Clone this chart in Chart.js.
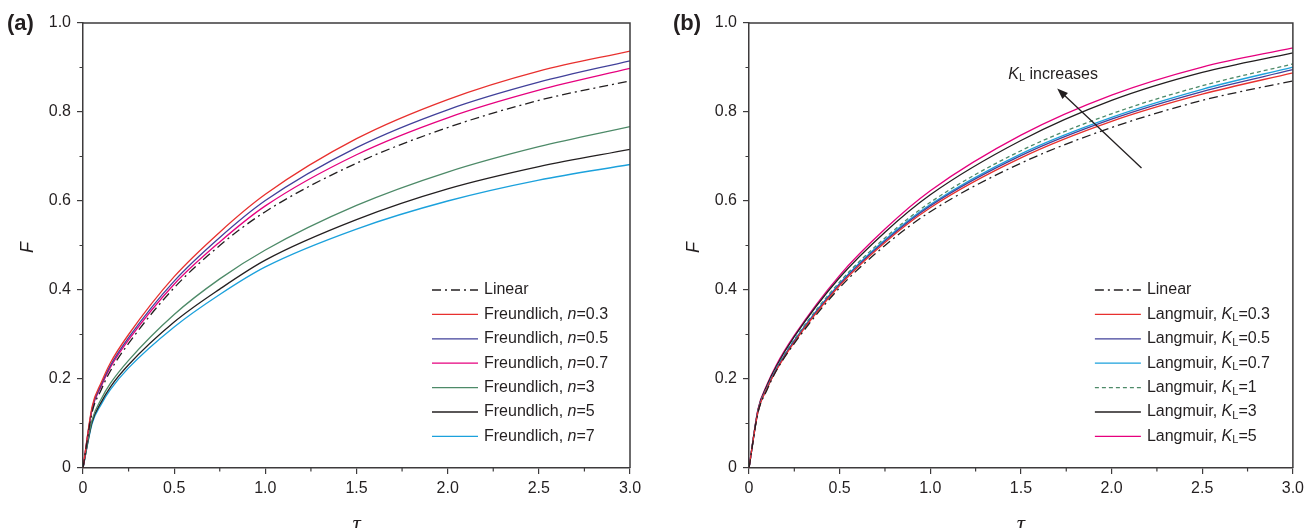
<!DOCTYPE html>
<html>
<head>
<meta charset="utf-8">
<script src="https://cdn.jsdelivr.net/npm/chart.js@4.4.1/dist/chart.umd.min.js"></script>
<style>
  html, body { margin: 0; padding: 0; background: #fff; }
  #wrap { position: relative; width: 1309px; height: 528px; overflow: hidden; }
  .panel { position: absolute; top: 0; height: 528px; }
  #panelA { left: 0; width: 654px; }
  #panelB { left: 654px; width: 655px; }
</style>
</head>
<body>
<div id="wrap">
  <div class="panel" id="panelA"><canvas id="chartA"></canvas></div>
  <div class="panel" id="panelB"><canvas id="chartB"></canvas></div>
</div>
<script>
// dimensionless time
const tau = [0, 0.05, 0.1, 0.15, 0.25, 0.5, 0.75, 1.0, 1.5, 2.0, 2.5, 3.0];

// linear isotherm (same in both panels)
const linearF = [0, 0.125, 0.176, 0.218, 0.280, 0.405, 0.500, 0.576, 0.685, 0.765, 0.826, 0.870];

// (a) Freundlich isotherm
const freundlichN = ["0.3", "0.5", "0.7", "3", "5", "7"];
const freundlichF = [
  [0, 0.138, 0.192, 0.236, 0.300, 0.430, 0.530, 0.615, 0.740, 0.828, 0.892, 0.937],
  [0, 0.134, 0.187, 0.230, 0.293, 0.420, 0.518, 0.601, 0.720, 0.805, 0.867, 0.915],
  [0, 0.132, 0.184, 0.226, 0.288, 0.413, 0.508, 0.589, 0.704, 0.787, 0.849, 0.898],
  [0, 0.108, 0.155, 0.190, 0.242, 0.345, 0.425, 0.490, 0.590, 0.665, 0.722, 0.767],
  [0, 0.104, 0.148, 0.182, 0.232, 0.328, 0.402, 0.467, 0.558, 0.627, 0.677, 0.716],
  [0, 0.100, 0.143, 0.176, 0.225, 0.317, 0.390, 0.452, 0.537, 0.600, 0.647, 0.682]
];
const freundlichColors = ["#e8302e", "#41409a", "#e6007e", "#4d8a68", "#231f20", "#1ba1dc"];

// (b) Langmuir isotherm
const langmuirK = ["0.3", "0.5", "0.7", "1", "3", "5"];
const langmuirF = [
  [0, 0.127, 0.179, 0.219, 0.283, 0.410, 0.507, 0.585, 0.697, 0.779, 0.840, 0.888],
  [0, 0.128, 0.180, 0.221, 0.285, 0.413, 0.510, 0.589, 0.702, 0.784, 0.846, 0.895],
  [0, 0.128, 0.181, 0.222, 0.287, 0.415, 0.513, 0.592, 0.706, 0.788, 0.851, 0.901],
  [0, 0.129, 0.182, 0.224, 0.289, 0.418, 0.517, 0.597, 0.713, 0.796, 0.859, 0.908],
  [0, 0.131, 0.186, 0.228, 0.295, 0.428, 0.530, 0.614, 0.736, 0.826, 0.889, 0.933],
  [0, 0.133, 0.188, 0.231, 0.298, 0.433, 0.537, 0.623, 0.748, 0.838, 0.901, 0.944]
];
const langmuirColors = ["#e8302e", "#41409a", "#1ba1dc", "#4d8a68", "#231f20", "#e6007e"];
const langmuirDash = [[], [], [], [4, 3], [], []];

const xTicks = [0, 0.5, 1.0, 1.5, 2.0, 2.5, 3.0];
const yTicks = [0, 0.2, 0.4, 0.6, 0.8, 1.0];

const SANS = '"Liberation Sans", Arial, sans-serif';
const INK = "#231f20";
const AXIS = "#3d3b3c";

function points(ys) {
  return tau.map((t, i) => ({ x: t, y: ys[i] }));
}

function linearSet() {
  return {
    data: points(linearF),
    borderColor: INK,
    borderDash: [9, 4, 2, 4],
    parts: [{ t: "Linear" }]
  };
}

// text with italic / subscript pieces
function drawRich(ctx, parts, x, y) {
  ctx.textBaseline = "middle";
  ctx.textAlign = "left";
  ctx.fillStyle = INK;
  parts.forEach(p => {
    let size = 16, dy = 0, style = "";
    if (p.i) style = "italic ";
    if (p.sub) { size = 11; dy = 4; }
    ctx.font = style + size + "px " + SANS;
    ctx.fillText(p.t, x, y + dy);
    x += ctx.measureText(p.t).width;
  });
}

const decor = {
  id: "decor",
  afterDraw(chart, args, opts) {
    const ctx = chart.ctx;
    const a = chart.chartArea;
    const xs = chart.scales.x, ys = chart.scales.y;
    ctx.save();

    // frame on top and right
    ctx.strokeStyle = AXIS;
    ctx.lineWidth = 1.5;
    ctx.beginPath();
    ctx.moveTo(a.left, a.top);
    ctx.lineTo(a.right, a.top);
    ctx.lineTo(a.right, a.bottom);
    ctx.stroke();

    // minor ticks
    ctx.lineWidth = 1.2;
    ctx.beginPath();
    for (let v = 0.25; v < 3; v += 0.5) {
      const px = xs.getPixelForValue(v);
      ctx.moveTo(px, a.bottom);
      ctx.lineTo(px, a.bottom + 3.5);
    }
    for (let v = 0.1; v < 1; v += 0.2) {
      const py = ys.getPixelForValue(v);
      ctx.moveTo(a.left, py);
      ctx.lineTo(a.left - 3.5, py);
    }
    ctx.stroke();

    // legend
    const lx = a.right - 198;
    chart.data.datasets.forEach((ds, i) => {
      const y = a.bottom - 178 + i * 24.4;
      ctx.strokeStyle = ds.borderColor;
      ctx.lineWidth = 1.3;
      ctx.setLineDash(ds.borderDash || []);
      ctx.beginPath();
      ctx.moveTo(lx, y);
      ctx.lineTo(lx + 46, y);
      ctx.stroke();
      ctx.setLineDash([]);
      drawRich(ctx, ds.parts, lx + 52, y);
    });

    // panel letter
    ctx.fillStyle = INK;
    ctx.textBaseline = "alphabetic";
    ctx.textAlign = "left";
    ctx.font = "bold 22px " + SANS;
    ctx.fillText(opts.letter, a.left - 76, 30);

    // axis titles
    ctx.save();
    ctx.translate(a.left - 55, (a.top + a.bottom) / 2 + 2);
    ctx.rotate(-Math.PI / 2);
    ctx.textAlign = "center";
    ctx.textBaseline = "middle";
    ctx.font = "italic 18px " + SANS;
    ctx.fillText("F", 0, 0);
    ctx.restore();

    ctx.textAlign = "center";
    ctx.textBaseline = "alphabetic";
    ctx.font = "italic 23px \"Liberation Serif\", serif";
    ctx.fillText("\u03c4", (a.left + a.right) / 2, 531);

    // trend arrow
    if (opts.arrow) {
      const r = opts.arrow;
      const x0 = xs.getPixelForValue(r.from[0]), y0 = ys.getPixelForValue(r.from[1]);
      const x1 = xs.getPixelForValue(r.to[0]), y1 = ys.getPixelForValue(r.to[1]);
      const ang = Math.atan2(y1 - y0, x1 - x0);
      ctx.strokeStyle = INK;
      ctx.fillStyle = INK;
      ctx.lineWidth = 1.3;
      ctx.beginPath();
      ctx.moveTo(x0, y0);
      ctx.lineTo(x1 - 8 * Math.cos(ang), y1 - 8 * Math.sin(ang));
      ctx.stroke();
      ctx.beginPath();
      ctx.moveTo(x1, y1);
      ctx.lineTo(x1 - 11 * Math.cos(ang) + 4 * Math.sin(ang), y1 - 11 * Math.sin(ang) - 4 * Math.cos(ang));
      ctx.lineTo(x1 - 11 * Math.cos(ang) - 4 * Math.sin(ang), y1 - 11 * Math.sin(ang) + 4 * Math.cos(ang));
      ctx.closePath();
      ctx.fill();
      drawRich(ctx, r.text, xs.getPixelForValue(r.textAt[0]), ys.getPixelForValue(r.textAt[1]));
    }
    ctx.restore();
  }
};

function makeChart(id, datasets, leftWidth, rightPad, letter, arrow) {
  return new Chart(document.getElementById(id), {
    type: "scatter",
    data: {
      datasets: datasets.map(ds => Object.assign({
        showLine: true,
        pointRadius: 0,
        borderWidth: 1.3,
        cubicInterpolationMode: "monotone",
        fill: false
      }, ds))
    },
    options: {
      responsive: true,
      maintainAspectRatio: false,
      animation: false,
      events: [],
      layout: { padding: { top: 23, right: rightPad, left: 0, bottom: 0 } },
      plugins: {
        legend: { display: false },
        tooltip: { enabled: false },
        decor: { letter: letter, arrow: arrow }
      },
      scales: {
        x: {
          type: "linear",
          min: 0,
          max: 3,
          afterBuildTicks: s => { s.ticks = xTicks.map(v => ({ value: v })); },
          afterFit: s => { s.height = 60; },
          ticks: {
            color: INK,
            padding: 5,
            maxRotation: 0,
            font: { family: SANS, size: 16 },
            callback: v => (v === 0 ? "0" : v.toFixed(1))
          },
          grid: { drawOnChartArea: false, tickLength: 6, color: AXIS, lineWidth: 1.2 },
          border: { color: AXIS, width: 1.5 }
        },
        y: {
          type: "linear",
          min: 0,
          max: 1,
          afterBuildTicks: s => { s.ticks = yTicks.map(v => ({ value: v })); },
          afterFit: s => { s.width = leftWidth; },
          ticks: {
            color: INK,
            padding: 6,
            font: { family: SANS, size: 16 },
            callback: v => (v === 0 ? "0" : v.toFixed(1))
          },
          grid: { drawOnChartArea: false, tickLength: 6, color: AXIS, lineWidth: 1.2 },
          border: { color: AXIS, width: 1.5 }
        }
      }
    },
    plugins: [decor]
  });
}

const setsA = [linearSet()].concat(freundlichF.map((ys, i) => ({
  data: points(ys),
  borderColor: freundlichColors[i],
  parts: [{ t: "Freundlich, " }, { t: "n", i: true }, { t: "=" + freundlichN[i] }]
})));

const setsB = [linearSet()].concat(langmuirF.map((ys, i) => ({
  data: points(ys),
  borderColor: langmuirColors[i],
  borderDash: langmuirDash[i],
  parts: [{ t: "Langmuir, " }, { t: "K", i: true }, { t: "L", sub: true }, { t: "=" + langmuirK[i] }]
})));

makeChart("chartA", setsA, 83, 24, "(a)", null);
makeChart("chartB", setsB, 95, 14, "(b)", {
  from: [2.165, 0.674],
  to: [1.70, 0.853],
  textAt: [1.43, 0.885],
  text: [{ t: "K", i: true }, { t: "L", sub: true }, { t: " increases" }]
});
</script>
</body>
</html>
